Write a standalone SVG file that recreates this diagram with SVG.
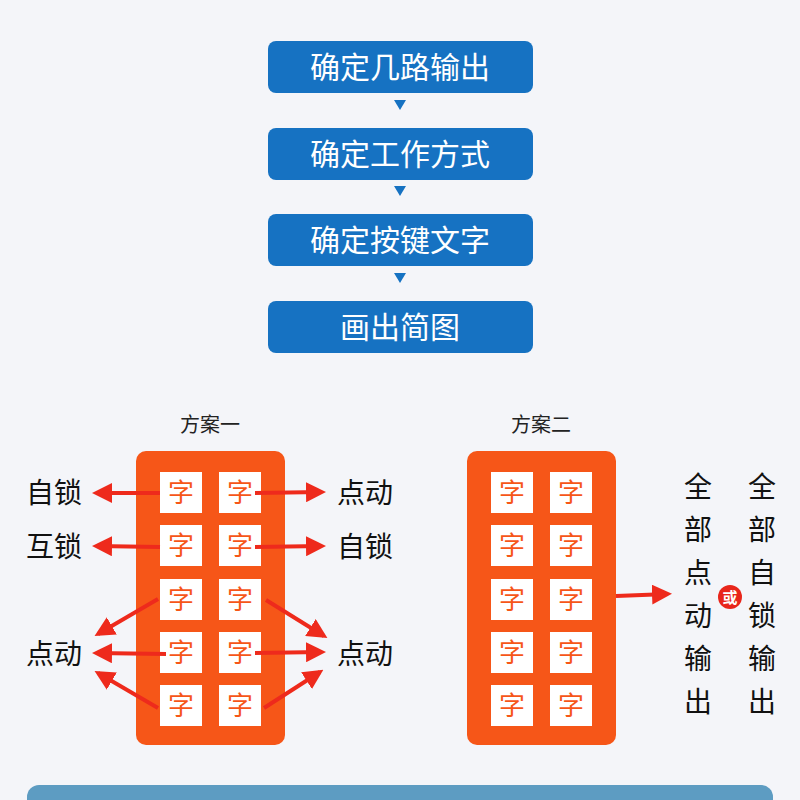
<svg xmlns="http://www.w3.org/2000/svg" width="800" height="800" viewBox="0 0 800 800">
<defs>
<style>
.step rect{fill:#1672c2}
.step text{fill:#fff;font:30px "Noto Sans CJK SC",sans-serif;text-anchor:middle}
.panel{fill:#f65618}
.cell rect{fill:#fff}
.cell text{fill:#f65618;font:26px "Noto Sans CJK SC",sans-serif;text-anchor:middle}
.lbl{fill:#111;font:28px "Noto Sans CJK SC",sans-serif;text-anchor:middle}
.ttl{fill:#222;font:20px "Noto Sans CJK SC",sans-serif;text-anchor:middle}
.arr{stroke:#ee2a1c;stroke-width:4;fill:none;marker-end:url(#ah)}
.tri{fill:#1672c2}
</style>
<marker id="ah" viewBox="0 0 10 10" refX="8" refY="5" markerWidth="5" markerHeight="5" orient="auto" markerUnits="strokeWidth"><path d="M0,0L10,5L0,10z" fill="#ee2a1c"/></marker>
</defs>
<rect width="800" height="800" fill="#f4f5f9"/>
<rect x="27" y="785" width="746" height="40" rx="12" fill="#5d9cc2"/>
<g id="s1" class="step"><rect x="268" y="41" width="265" height="52" rx="8"/><text x="400" y="78">确定几路输出</text></g>
<g id="s2" class="step"><rect x="268" y="128" width="265" height="52" rx="8"/><text x="400" y="165">确定工作方式</text></g>
<g id="s3" class="step"><rect x="268" y="214" width="265" height="52" rx="8"/><text x="400" y="251">确定按键文字</text></g>
<g id="s4" class="step"><rect x="268" y="301" width="265" height="52" rx="8"/><text x="400" y="338">画出简图</text></g>
<g id="tris">
<path class="tri" d="M394,100h12l-6,10z"/><path class="tri" d="M394,186h12l-6,10z"/><path class="tri" d="M394,273h12l-6,10z"/>
</g>
<g id="plan1">
<text class="ttl" x="210" y="432">方案一</text>
<rect class="panel" x="136" y="451" width="149" height="294" rx="10"/>
<g class="cell">
<rect x="160" y="472" width="42" height="41"/><text x="181" y="502">字</text>
<rect x="219" y="472" width="42" height="41"/><text x="240" y="502">字</text>
<rect x="160" y="525" width="42" height="41"/><text x="181" y="555">字</text>
<rect x="219" y="525" width="42" height="41"/><text x="240" y="555">字</text>
<rect x="160" y="579" width="42" height="41"/><text x="181" y="609">字</text>
<rect x="219" y="579" width="42" height="41"/><text x="240" y="609">字</text>
<rect x="160" y="632" width="42" height="41"/><text x="181" y="662">字</text>
<rect x="219" y="632" width="42" height="41"/><text x="240" y="662">字</text>
<rect x="160" y="685" width="42" height="41"/><text x="181" y="715">字</text>
<rect x="219" y="685" width="42" height="41"/><text x="240" y="715">字</text>
</g>
</g>
<g id="labels1">
<text class="lbl" x="54" y="503">自锁</text>
<text class="lbl" x="54" y="557">互锁</text>
<text class="lbl" x="54" y="664">点动</text>
<text class="lbl" x="365" y="503">点动</text>
<text class="lbl" x="365" y="557">自锁</text>
<text class="lbl" x="365" y="664">点动</text>
</g>
<g id="plan2">
<text class="ttl" x="541" y="432">方案二</text>
<rect class="panel" x="467" y="451" width="149" height="294" rx="10"/>
<g class="cell">
<rect x="491" y="472" width="42" height="41"/><text x="512" y="502">字</text>
<rect x="550" y="472" width="42" height="41"/><text x="571" y="502">字</text>
<rect x="491" y="525" width="42" height="41"/><text x="512" y="555">字</text>
<rect x="550" y="525" width="42" height="41"/><text x="571" y="555">字</text>
<rect x="491" y="579" width="42" height="41"/><text x="512" y="609">字</text>
<rect x="550" y="579" width="42" height="41"/><text x="571" y="609">字</text>
<rect x="491" y="632" width="42" height="41"/><text x="512" y="662">字</text>
<rect x="550" y="632" width="42" height="41"/><text x="571" y="662">字</text>
<rect x="491" y="685" width="42" height="41"/><text x="512" y="715">字</text>
<rect x="550" y="685" width="42" height="41"/><text x="571" y="715">字</text>
</g>
</g>
<g id="out">
<text class="lbl" x="698" y="497">全</text><text class="lbl" x="698" y="540">部</text><text class="lbl" x="698" y="583">点</text><text class="lbl" x="698" y="626">动</text><text class="lbl" x="698" y="669">输</text><text class="lbl" x="698" y="712">出</text>
<text class="lbl" x="762" y="497">全</text><text class="lbl" x="762" y="540">部</text><text class="lbl" x="762" y="583">自</text><text class="lbl" x="762" y="626">锁</text><text class="lbl" x="762" y="669">输</text><text class="lbl" x="762" y="712">出</text>
<circle cx="730" cy="597" r="12" fill="#e8261b"/>
<text x="730" y="603" fill="#fff" font-family="Noto Sans CJK SC,sans-serif" font-size="15" font-weight="bold" text-anchor="middle">或</text>
</g>
<g id="connectors">
<path class="arr" d="M160,493L96,493"/>
<path class="arr" d="M255,493L322,492"/>
<path class="arr" d="M160,547L96,546"/>
<path class="arr" d="M255,547L322,546"/>
<path class="arr" d="M158,599L98,634"/>
<path class="arr" d="M266,600L324,636"/>
<path class="arr" d="M166,654L96,653"/>
<path class="arr" d="M255,653L322,652"/>
<path class="arr" d="M158,708L98,673"/>
<path class="arr" d="M264,708L320,672"/>
<path class="arr" d="M616,596L668,594"/>
</g>
</svg>
